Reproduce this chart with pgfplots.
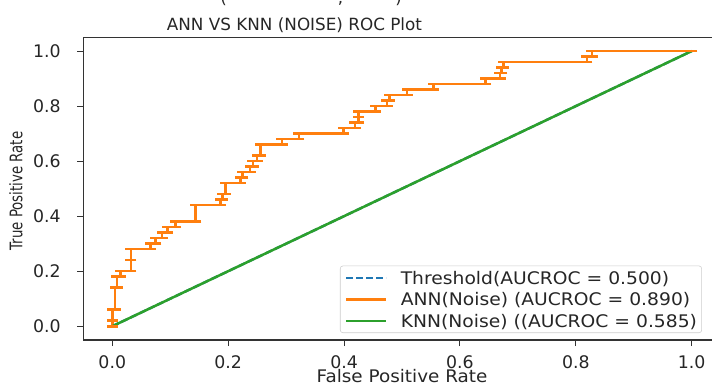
\documentclass[border=0pt]{standalone}
\usepackage{fontspec}
\setmainfont{DejaVu Sans}
\newfontfamily\widefont[FakeStretch=1.08]{DejaVu Sans}
\newfontfamily\xlfont[FakeStretch=1.06]{DejaVu Sans}
\usepackage{graphicx}
\usepackage{pgfplots}
\pgfplotsset{compat=1.18}
\definecolor{mblue}{HTML}{1F77B4}
\definecolor{morange}{HTML}{FF7F0E}
\definecolor{mgreen}{HTML}{2CA02C}
\definecolor{txt}{HTML}{262626}
\begin{document}
\begin{tikzpicture}
\begin{axis}[name=ax, scale only axis, width=478.05pt, height=227.03pt,
  xmin=-0.05, xmax=1.05, ymin=-0.05, ymax=1.05,
  xtick={0,0.2,0.4,0.6,0.8,1.0}, ytick={0,0.2,0.4,0.6,0.8,1.0},
  xticklabels={0.0,0.2,0.4,0.6,0.8,1.0}, yticklabels={0.0,0.2,0.4,0.6,0.8,1.0},
  tick align=outside, major tick length=4.5pt, xtick pos=left, ytick pos=left,
  axis line style={black!80, line width=0.8pt}, tick style={black!80, line width=0.8pt},
  ticklabel style={font=\fontsize{13}{15}\selectfont, text=txt},
  xticklabel style={anchor=base, inner sep=0pt, yshift=-17pt},
  yticklabel style={anchor=east, inner sep=0pt, xshift=-12.2pt},
  title={ANN VS KNN (NOISE) ROC Plot},
  title style={at={(axis description cs:0.3313,1)}, anchor=base, yshift=-1pt, inner sep=0pt, font=\fontsize{12.6}{15}\selectfont, text=txt},
  xlabel={False Positive Rate},
  xlabel style={at={(axis description cs:0.5,0)}, anchor=base, yshift=-31.9pt, inner sep=0pt, font=\xlfont\fontsize{13}{15}\selectfont, text=txt},
  ylabel={\scalebox{0.77}[1]{True Positive Rate}},
  ylabel style={at={(axis description cs:0,0.492)}, anchor=center, yshift=50.5pt, inner sep=0pt, font=\fontsize{13}{15}\selectfont, text=txt},
  legend style={at={(0.9706,0.0231)}, anchor=south east, draw=black!20, rounded corners=2pt, fill=white,
    inner xsep=3.5pt, inner ysep=0.9pt, column sep=10pt, row sep=0pt,
    nodes={inner sep=0pt, text height=12.9pt, text depth=3.2pt},
    font=\widefont\fontsize{13}{15}\selectfont, text=txt},
  legend cell align=left,
  legend image code/.code={\draw[#1] (0pt,0pt) -- (30pt,0pt);},
]
\addplot[mblue, dashed, line width=1.8pt, dash pattern=on 5pt off 2.5pt] coordinates {(0,0) (1,1)};
\addlegendentry{Threshold(AUCROC = 0.500)}
\addplot[morange, line width=1.9pt, mark=-, mark size=4.2pt, mark options={solid, line width=1.9pt}] coordinates {
(0,0) (0,0.02) (0,0.06) (0.005,0.06) (0.005,0.14) (0.008,0.14) (0.008,0.18) (0.014,0.18) (0.014,0.20)
(0.032,0.20) (0.032,0.24) (0.032,0.28) (0.066,0.28) (0.066,0.30) (0.075,0.30) (0.075,0.32)
(0.086,0.32) (0.086,0.34) (0.095,0.34) (0.095,0.36) (0.109,0.36) (0.109,0.38) (0.144,0.38) (0.144,0.44)
(0.187,0.44) (0.187,0.46) (0.19,0.46) (0.19,0.48) (0.195,0.48) (0.195,0.52) (0.221,0.52) (0.221,0.54)
(0.225,0.54) (0.225,0.56) (0.238,0.56) (0.238,0.58) (0.243,0.58) (0.243,0.60) (0.25,0.60) (0.25,0.62)
(0.256,0.62) (0.256,0.66) (0.293,0.66) (0.293,0.68) (0.322,0.68) (0.322,0.70) (0.399,0.70) (0.399,0.72)
(0.419,0.72) (0.419,0.74) (0.425,0.74) (0.425,0.76) (0.425,0.78) (0.454,0.78) (0.454,0.80) (0.474,0.80)
(0.474,0.82) (0.478,0.82) (0.478,0.84) (0.509,0.84) (0.509,0.86) (0.554,0.86) (0.554,0.88) (0.644,0.88)
(0.644,0.90) (0.669,0.90) (0.669,0.92) (0.672,0.92) (0.672,0.94) (0.675,0.94) (0.675,0.96) (0.819,0.96)
(0.819,0.98) (0.828,0.98) (0.828,1.0) (1,1)};
\addlegendentry{ANN(Noise) (AUCROC = 0.890)}
\addplot[mgreen, line width=1.9pt] coordinates {(0,0) (1,1)};
\addlegendentry{KNN(Noise) ((AUCROC = 0.585)}
\end{axis}
\node[anchor=base, inner sep=0pt, font=\fontsize{12.5}{15}\selectfont, text=txt] at ([xshift=105.2pt, yshift=25.1pt]ax.north west) {(};
\node[anchor=base, inner sep=0pt, font=\fontsize{12.5}{15}\selectfont, text=txt] at ([xshift=192.9pt, yshift=25.1pt]ax.north west) {,};
\node[anchor=base, inner sep=0pt, font=\fontsize{12.5}{15}\selectfont, text=txt] at ([xshift=236.4pt, yshift=25.1pt]ax.north west) {)};
\pgfresetboundingbox
\useasboundingbox ([xshift=-62.475pt, yshift=-32.25pt]ax.south west) rectangle ([xshift=471.525pt, yshift=255pt]ax.south west);
\end{tikzpicture}
\end{document}
